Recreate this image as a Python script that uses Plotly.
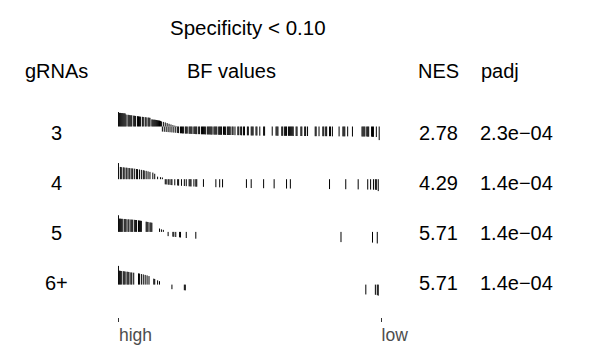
import plotly.graph_objects as go

W, H = 602, 347
N_RANKS = 275

title_text = "Specificity < 0.10"
col_headers = ["gRNAs", "BF values", "NES", "padj"]
gRNA_labels = ["3", "4", "5", "6+"]
nes_values = [2.78, 4.29, 5.71, 5.71]
padj_values = ["2.3e\u221204", "1.4e\u221204", "1.4e\u221204", "1.4e\u221204"]
axis_tick_labels = ["high", "low"]

# ---- barcode data: rank position of each gene (0 = highest BF) and its scaled BF value ----
row1_pos = [0, 1, 2, 3, 4, 5, 6, 7, 8, 10, 11, 12, 13, 14, 16, 17, 18, 20, 21, 22, 23, 25, 26, 28, 29,
            31, 32, 33, 35, 36, 37, 38, 39, 40, 41, 42, 43, 44,
            45, 46, 47, 48, 49, 50, 51, 52, 53, 54, 55, 56, 57, 58, 59, 60, 61,
            62, 63, 65, 66, 67, 68, 70, 71, 72, 74, 75, 76, 77, 79, 80, 81, 82, 84, 85, 87, 88, 89, 90, 91,
            93, 94, 95, 96, 97, 98, 100, 101, 102, 103, 105, 106, 107, 108, 110, 111, 112, 114, 115, 116,
            117, 119, 120, 122, 125, 126, 128, 129, 131, 132, 135, 136, 139, 140, 141, 144, 145, 148, 152, 153,
            161, 165, 166, 167, 171, 172, 174, 175, 176, 178, 179, 180, 181, 182, 183, 186, 187, 191, 192, 195,
            196, 198, 206, 207, 210, 214, 215, 217, 218, 221, 222, 224, 231, 235, 236, 237, 240, 245, 255, 256,
            257, 258, 260, 261, 262, 265, 266, 267, 270, 273]
row1_val = [0.85, 0.80, 0.80, 0.79, 0.79, 0.78, 0.78, 0.77, 0.70, 0.69, 0.68, 0.67, 0.66, 0.66, 0.64, 0.63,
            0.62, 0.61, 0.60, 0.59, 0.58, 0.57, 0.56, 0.55, 0.54, 0.53, 0.52, 0.51, 0.42, 0.41, 0.40, 0.40,
            0.39, 0.38, 0.37, 0.36, 0.35, 0.33,
            0.30, -0.30, 0.27, -0.31, 0.24, -0.32, 0.20, -0.33, 0.16, -0.34, 0.12, -0.35, 0.08, -0.36, 0.05,
            -0.37, 0.02,
            -0.38, -0.39, -0.40, -0.40, -0.41, -0.41, -0.42, -0.42, -0.42, -0.43, -0.43, -0.43, -0.44, -0.44,
            -0.44, -0.45, -0.45, -0.45, -0.45, -0.46, -0.46, -0.46, -0.46, -0.47, -0.47, -0.47, -0.47, -0.47,
            -0.48, -0.48, -0.48, -0.48, -0.48, -0.48, -0.49, -0.49, -0.49, -0.49, -0.49, -0.49, -0.50, -0.50,
            -0.50, -0.50,
            -0.50, -0.50, -0.50, -0.51, -0.51, -0.51, -0.51, -0.52, -0.52, -0.52, -0.52, -0.52, -0.53, -0.53,
            -0.53, -0.53, -0.53, -0.54, -0.54, -0.54, -0.54, -0.54, -0.54, -0.55, -0.55, -0.55, -0.55, -0.55,
            -0.55, -0.55, -0.55, -0.55, -0.55, -0.55, -0.56, -0.56, -0.56, -0.56, -0.56, -0.56, -0.56, -0.56,
            -0.57, -0.57, -0.57, -0.57, -0.57, -0.57, -0.57, -0.57, -0.57, -0.58, -0.58, -0.58, -0.58, -0.58,
            -0.58, -0.59, -0.59, -0.59, -0.59, -0.59, -0.59, -0.60, -0.60, -0.60, -0.61, -0.61, -0.62, -0.80]

row2_pos = [0, 2, 3, 5, 6, 8, 9, 11, 12, 14, 15, 17, 19, 20, 22, 24, 26, 27, 29, 31, 33, 36, 38, 41, 44, 46,
            49, 50, 52, 53, 55, 56, 59, 62, 63, 66, 69, 71, 74, 75, 76, 79, 81, 82, 89, 102, 106, 109, 134,
            139, 152, 163, 176, 180, 221, 238, 251, 261, 264, 267, 269, 270, 272]
row2_val = [0.95, 0.72, 0.71, 0.70, 0.69, 0.68, 0.67, 0.66, 0.65, 0.64, 0.63, 0.62, 0.60, 0.59, 0.57, 0.55,
            0.53, 0.51, 0.49, 0.46, 0.43, 0.39, 0.32, 0.15, 0.12, 0.10,
            -0.30, -0.31, -0.32, -0.33, -0.34, -0.35, -0.36, -0.37, -0.38, -0.39, -0.40, -0.41, -0.42, -0.42,
            -0.43, -0.43, -0.44, -0.44, -0.45, -0.47, -0.48, -0.48, -0.51, -0.52, -0.53, -0.54, -0.55, -0.55,
            -0.58, -0.59, -0.60, -0.61, -0.61, -0.62, -0.62, -0.63, -0.70]

row3_pos = [0, 1, 2, 3, 4, 6, 7, 8, 10, 11, 13, 14, 15, 17, 18, 19, 21, 22, 23, 24, 29, 30, 31, 33, 34, 35,
            43, 45, 47, 52, 57, 58, 60, 64, 65, 71, 81, 233, 266, 271]
row3_val = [0.98, 0.78, 0.78, 0.77, 0.77, 0.76, 0.76, 0.75, 0.74, 0.74, 0.73, 0.72, 0.72, 0.71, 0.70, 0.70,
            0.68, 0.67, 0.66, 0.65, 0.60, 0.59, 0.58, 0.56, 0.55, 0.54, 0.20, 0.15, 0.12,
            -0.25, -0.28, -0.29, -0.30, -0.32, -0.33, -0.36, -0.40, -0.60, -0.63, -0.68]

row4_pos = [0, 1, 2, 3, 5, 6, 7, 9, 10, 11, 13, 14, 16, 21, 22, 24, 26, 28, 30, 32, 37, 38, 41, 43,
            56, 69, 70, 259, 269, 271, 272]
row4_val = [1.10, 0.82, 0.81, 0.80, 0.79, 0.78, 0.77, 0.76, 0.75, 0.74, 0.72, 0.71, 0.70, 0.66, 0.65, 0.62,
            0.60, 0.57, 0.54, 0.50, 0.35, 0.33, 0.25, 0.20,
            -0.27, -0.33, -0.34, -0.58, -0.60, -0.62, -0.65]

rows_pos = [row1_pos, row2_pos, row3_pos, row4_pos]
rows_val = [row1_val, row2_val, row3_val, row4_val]

# ---- layout geometry (pixels) ----
FONT = "Liberation Sans, Arial, Helvetica, sans-serif"
X_LEFT, X_RIGHT = 124, 399
BASELINES = [126.5, 179.2, 231.9, 284.6]
PX_PER_UNIT = 17.0
HALF = 25.5
AXIS_Y = 316.7


def px_x(x):
    return x / W


def px_y(y):
    return 1 - y / H


fig = go.Figure()
layout_axes = {}
for i, (pos, val) in enumerate(zip(rows_pos, rows_val)):
    xs, ys = [], []
    for p, v in zip(pos, val):
        xs += [p, p, None]
        ys += [0, v, None]
    k = "" if i == 0 else str(i + 1)
    fig.add_trace(go.Scatter(x=xs, y=ys, mode="lines", line=dict(color="black", width=1),
                             hoverinfo="skip", showlegend=False,
                             xaxis="x" + k, yaxis="y" + k))
    top = BASELINES[i] - HALF
    bottom = BASELINES[i] + HALF if i < 3 else AXIS_Y
    yr = [-(bottom - BASELINES[i]) / PX_PER_UNIT, (BASELINES[i] - top) / PX_PER_UNIT]
    layout_axes["yaxis" + k] = dict(domain=[px_y(bottom), px_y(top)], range=yr, visible=False,
                                    anchor="x" + k, fixedrange=True)
    xa = dict(domain=[px_x(X_LEFT - 0.5), px_x(X_RIGHT + 0.5)], range=[-0.5, N_RANKS + 0.5],
              anchor="y" + k, showgrid=False, zeroline=False, showline=False, fixedrange=True)
    if i < 3:
        xa.update(visible=False)
    else:
        xa.update(tickmode="array", tickvals=[0, N_RANKS], ticktext=axis_tick_labels,
                  ticks="outside", ticklen=4, tickwidth=1, tickcolor="#333333",
                  ticklabelposition="outside right", ticklabelstandoff=2,
                  tickfont=dict(family=FONT, size=17.5, color="#4d4d4d"))
    layout_axes["xaxis" + k] = xa

fig.update_layout(**layout_axes)

annotations = []


def add_text(text, x, y, size=20):
    annotations.append(dict(text=text, x=px_x(x), y=px_y(y), xref="paper", yref="paper",
                            xanchor="center", yanchor="middle", showarrow=False,
                            font=dict(family=FONT, size=size, color="black")))


add_text(title_text, 260, 28, 20.5)
header_x = [59, 242, 459, 524]
for t, x in zip(col_headers, header_x):
    add_text(t, x, 71)
row_text_y = [133, 183, 233, 283]
for i in range(4):
    add_text(gRNA_labels[i], header_x[0], row_text_y[i])
    add_text(f"{nes_values[i]:.2f}", header_x[2], row_text_y[i])
    add_text(padj_values[i], 541, row_text_y[i])

fig.update_layout(width=W, height=H, margin=dict(l=0, r=0, t=0, b=0),
                  paper_bgcolor="white", plot_bgcolor="rgba(0,0,0,0)",
                  annotations=annotations, showlegend=False)

fig.write_html("out.html", config={"displayModeBar": False})
